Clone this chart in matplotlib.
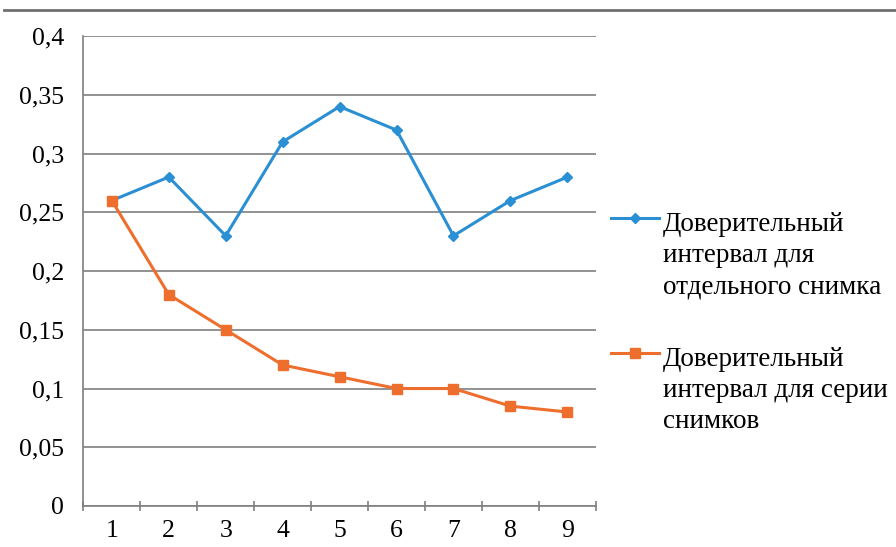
import matplotlib.pyplot as plt
from matplotlib.lines import Line2D
from matplotlib.ticker import MultipleLocator, FuncFormatter

x_vals = [1, 2, 3, 4, 5, 6, 7, 8, 9]
single_shot = [0.26, 0.28, 0.23, 0.31, 0.34, 0.32, 0.23, 0.26, 0.28]
series_shots = [0.26, 0.18, 0.15, 0.12, 0.11, 0.10, 0.10, 0.085, 0.08]
labels = ["Доверительный\nинтервал для\nотдельного снимка",
          "Доверительный\nинтервал для серии\nснимков"]

blue = "#2b8fd3"
orange = "#ee6f2d"
grid_c = "#7f7f7f"

plt.rcParams['font.family'] = ['Liberation Serif', 'DejaVu Serif']

fig = plt.figure(figsize=(8.96, 5.47), dpi=100)
ax = fig.add_axes([0.093, 0.075, 0.572, 0.859])

ax.plot(x_vals, single_shot, color=blue, lw=2.2, marker="D", ms=5, zorder=3)
ax.plot(x_vals, series_shots, color=orange, lw=2.2, marker="s", ms=7, zorder=4)

ax.set_xlim(0.5, 9.5)
ax.set_ylim(0, 0.4)
ax.yaxis.set_major_locator(MultipleLocator(0.05))
ax.yaxis.set_major_formatter(FuncFormatter(lambda v, p: ("%g" % round(v, 2)).replace(".", ",")))
ax.set_xticks(x_vals)
ax.xaxis.set_minor_locator(MultipleLocator(1, offset=0.5))
ax.tick_params(axis="x", which="major", length=0, labelsize=18.5, pad=10)
ax.tick_params(axis="x", which="minor", length=7, width=1.2, color=grid_c, direction="inout")
ax.tick_params(axis="y", length=0, labelsize=18.5, pad=14)

ax.grid(axis="y", color=grid_c, lw=1.2)
ax.set_axisbelow(True)
for s in ["top", "right"]:
    ax.spines[s].set_visible(False)
ax.spines["left"].set_color(grid_c)
ax.spines["bottom"].set_color(grid_c)
ax.spines["left"].set_linewidth(1.2)
ax.spines["bottom"].set_linewidth(1.2)

# top rule across the picture
fig.add_artist(Line2D([0.005, 1.0], [0.982, 0.982], color="#6f6f6f", lw=2))

# legend drawn by hand so the key sits on the first text line
for lab, col, mk, ms, y, ty in [(labels[0], blue, "D", 5, 0.6015, 0.6124),
                                (labels[1], orange, "s", 7, 0.3547, 0.3656)]:
    fig.add_artist(Line2D([0.682, 0.7355], [y, y], color=col, lw=2.2))
    fig.add_artist(Line2D([0.709], [y], color=col, marker=mk, ms=ms))
    fig.text(0.74, ty, lab, fontsize=19.5, va="top", ha="left", linespacing=1.32)

fig.savefig("out.png", dpi=100)
